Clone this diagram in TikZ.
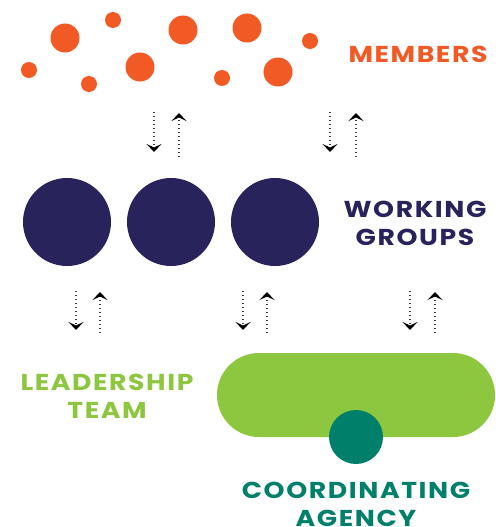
\documentclass[tikz,border=0pt]{standalone}
\usepackage{fontspec}
\setmainfont{Poppins}
\newfontfamily\lblfont{Poppins}[UprightFont={* Bold},FakeStretch=1.16,LetterSpace=7]
\usetikzlibrary{arrows.meta}
\definecolor{orng}{HTML}{F15A24}
\definecolor{navy}{HTML}{29235C}
\definecolor{lime}{HTML}{8DC63F}
\definecolor{teal}{HTML}{00806A}
\tikzset{
  dot/.style={circle,fill=orng,inner sep=0pt,minimum size=#1},
  wg/.style={circle,fill=navy,inner sep=0pt,minimum size=88pt},
  lbl/.style={font=\lblfont\fontsize{23}{28}\selectfont,align=center,inner sep=0pt},
  flow/.style={line width=1.3pt,dash pattern=on 1.3pt off 2.7pt,black!75,
    -{Stealth[length=8pt,width=15pt,inset=3.5pt,black]}}
}
\begin{document}
\begin{tikzpicture}[x=1pt,y=-1pt]
\useasboundingbox (0,0) rectangle (495,527);
% members
\node[dot=29pt] (m1) at (65,38) {};
\node[dot=16pt] (m2) at (113,20) {};
\node[dot=29pt] (m3) at (183,30) {};
\node[dot=29pt] (m4) at (247,28) {};
\node[dot=16pt] (m5) at (310,41) {};
\node[dot=16pt] (m6) at (29,70) {};
\node[dot=16pt] (m7) at (89,84) {};
\node[dot=29pt] (m8) at (140,67) {};
\node[dot=16pt] (m9) at (222,78) {};
\node[dot=29pt] (m10) at (278,72) {};
\node[lbl,text=orng] (members) at (418,54) {MEMBERS};
% working groups
\node[wg] (w1) at (67,222) {};
\node[wg] (w2) at (171,222) {};
\node[wg] (w3) at (275,222) {};
\node[lbl,text=navy] (wgl) at (415,223) {WORKING\\GROUPS};
% leadership
\node[lbl,text=lime] (lead) at (107,396) {LEADERSHIP\\TEAM};
\fill[lime,rounded corners=42pt] (217,353) rectangle (495,437);
\node[inner sep=0pt] (pill) at (356,395) {};
\node[circle,fill=teal,inner sep=0pt,minimum size=54pt] (ca) at (356,437) {};
\node[lbl,text=teal] (cal) at (356,504) {COORDINATING\\AGENCY};
% arrow coordinates
\coordinate (a1t) at (154,112); \coordinate (a1b) at (154,152);
\coordinate (b1t) at (179,113); \coordinate (b1b) at (179,157);
\coordinate (a2t) at (330,112); \coordinate (a2b) at (330,152);
\coordinate (b2t) at (356,113); \coordinate (b2b) at (356,157);
\draw[flow] (a1t) -- (a1b);
\draw[flow] (b1b) -- (b1t);
\draw[flow] (a2t) -- (a2b);
\draw[flow] (b2b) -- (b2t);
\coordinate (c1t) at (76,291); \coordinate (c1b) at (76,330);
\coordinate (d1t) at (100,292); \coordinate (d1b) at (100,333);
\coordinate (c2t) at (243,291); \coordinate (c2b) at (243,330);
\coordinate (d2t) at (267,292); \coordinate (d2b) at (267,333);
\coordinate (c3t) at (410,291); \coordinate (c3b) at (410,330);
\coordinate (d3t) at (435,292); \coordinate (d3b) at (435,333);
\draw[flow] (c1t) -- (c1b);
\draw[flow] (d1b) -- (d1t);
\draw[flow] (c2t) -- (c2b);
\draw[flow] (d2b) -- (d2t);
\draw[flow] (c3t) -- (c3b);
\draw[flow] (d3b) -- (d3t);
\end{tikzpicture}
\end{document}
